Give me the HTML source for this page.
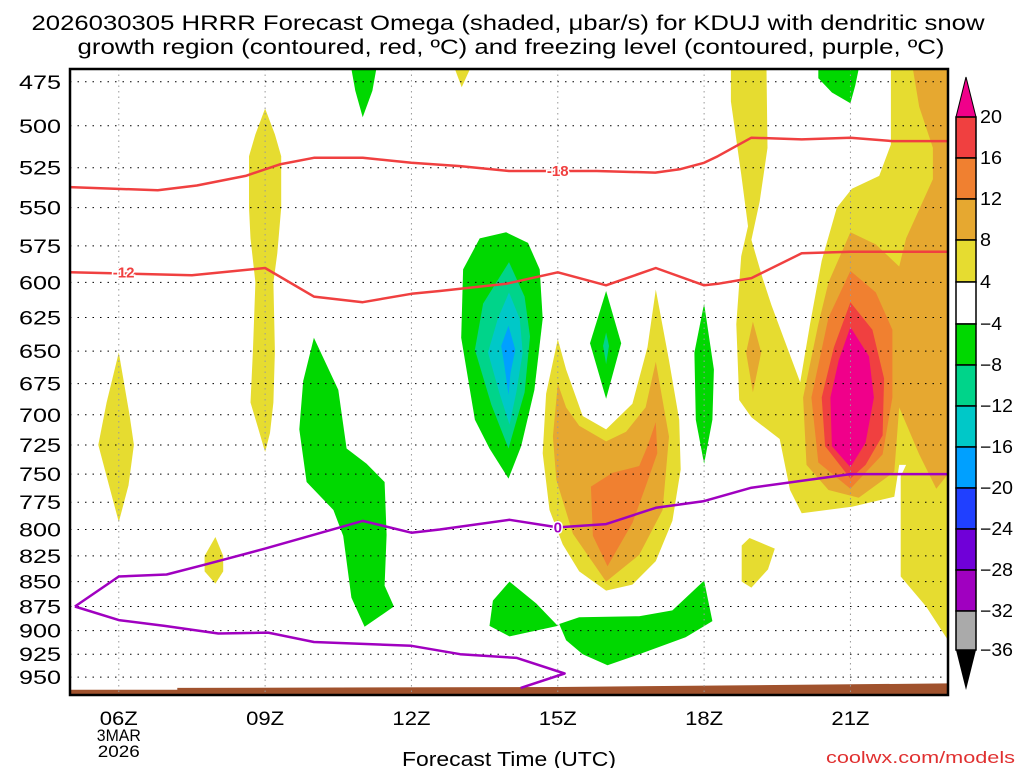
<!DOCTYPE html>
<html><head><meta charset="utf-8"><style>
html,body{margin:0;padding:0;background:#fff;}
svg{display:block;font-family:"Liberation Sans",sans-serif;}
</style></head><body>
<svg id="chart" width="1024" height="768" viewBox="0 0 1024 768">
<text x="508" y="30" text-anchor="middle" font-size="21" textLength="953" lengthAdjust="spacingAndGlyphs">2026030305 HRRR Forecast Omega (shaded, μbar/s) for KDUJ with dendritic snow</text>
<text x="511" y="54" text-anchor="middle" font-size="21" textLength="867" lengthAdjust="spacingAndGlyphs">growth region (contoured, red, ºC) and freezing level (contoured, purple, ºC)</text>
<g id="fills"></g>
<g id="grid"></g>
<g id="lines"></g>
<g id="axes"></g>
<g id="cbar"></g>
<text x="509" y="766" text-anchor="middle" font-size="20" textLength="214" lengthAdjust="spacingAndGlyphs">Forecast Time (UTC)</text>
<text x="1015" y="763" text-anchor="end" font-size="17" fill="#e03030" textLength="189" lengthAdjust="spacingAndGlyphs">coolwx.com/models</text>
</svg>
<script>
// axis domain
const hourMin = 5, hourMax = 23, pTop = 468, pBot = 970;
const xTicks = [6, 9, 12, 15, 18, 21];
const xTickLabels = ["06Z", "09Z", "12Z", "15Z", "18Z", "21Z"];
const yTicks = [475,500,525,550,575,600,625,650,675,700,725,750,775,800,825,850,875,900,925,950];
const cbarLevels = [20,16,12,8,4,-4,-8,-12,-16,-20,-24,-28,-32,-36];
const cbarColors = ["#f04040","#f08030","#e6a830","#e6dc30","#ffffff","#00d800","#00d48a","#00c8c8","#00a0ff","#2040ff","#7000d8","#a000c0","#aaaaaa"];
// omega shaded regions: [[hour, hPa], ...]
const yellowRegions = [
 [[6,651],[6.22,700],[6.31,725],[6.2,760],[6,793],[5.8,760],[5.58,725],[5.75,690]],
 [[9,490],[9.2,505],[9.33,518],[9.33,550],[9.25,580],[9.17,600],[9.2,650],[9.17,690],[9.1,715],[9,731],[8.85,710],[8.7,690],[8.75,650],[8.8,600],[8.7,570],[8.67,550],[8.67,518],[8.8,505]],
 [[7.98,807],[8.14,825],[8.14,840],[7.98,852],[7.76,840],[7.76,825]],
 [[12.89,468],[13.2,468],[13.03,478]],
 [[15,641],[14.76,683],[14.69,732],[14.83,782],[15.1,814],[15.44,840],[15.99,859],[16.53,853],[17.01,830],[17.35,792],[17.52,746],[17.49,704],[17.28,657],[17.01,605],[16.84,647],[16.53,691],[15.99,712],[15.51,701],[15.17,664]],
 [[18.55,468],[19.28,468],[19.3,513],[19.14,546],[18.97,571],[19.2,597],[19.38,616],[19.66,643],[19.97,674],[20.17,630],[20.41,585],[20.72,550],[21.03,538],[21.59,530],[21.83,511],[21.83,468],[23,468],[23,910],[22.55,875],[22.03,845],[22.03,752],[22.14,742],[22.0,742],[21.9,770],[21.03,779],[20,785],[19.76,764],[19.55,720],[18.97,702],[18.72,688],[18.66,630],[18.76,582],[18.9,562],[18.76,529],[18.55,486]],
 [[18.93,808],[19.45,818],[19.31,838],[18.97,856],[18.77,850],[18.77,815]]
];
const orangeRegions = [
 [[15,675],[14.9,718],[14.97,755],[15.31,804],[15.99,850],[16.67,824],[17.15,782],[17.28,718],[17.01,658],[16.8,694],[16.4,714],[15.99,722],[15.44,709],[15.17,694]],
 [[19,628],[19.17,651],[19,682],[18.86,651]],
 [[22.28,468],[23,468],[23,750],[22.76,763],[22.41,733],[22.0,694],[21.9,748],[21.17,771],[20.55,764],[20.1,742],[20.03,686],[20.34,630],[20.55,600],[21,566],[21.52,574],[22,589],[22.14,570],[22.69,532],[22.69,513],[22.41,489]]
];
const darkOrangeRegions = [
 [[17.01,706],[17.04,732],[16.8,761],[16.53,794],[16.02,835],[15.72,806],[15.68,761],[16.12,749],[16.67,743],[16.84,726]],
 [[21,592],[21.52,607],[21.86,634],[21.86,686],[21.66,733],[21,763],[20.34,740],[20.2,686],[20.55,625]]
];
const redRegions = [
 [[21,614],[21.45,634],[21.69,671],[21.66,717],[21.31,742],[21,754],[20.48,726],[20.41,686],[20.66,647]]
];
const magentaRegions = [
 [[21,632],[21.38,654],[21.48,686],[21.31,723],[21,744],[20.62,726],[20.59,686],[20.76,657]]
];
const greenRegions = [
 [[10.77,468],[11.28,468],[11.2,480],[11.0,495],[10.85,480]],
 [[10.0,640],[10.5,680],[10.67,728],[11.08,741],[11.45,757],[11.49,805],[11.45,854],[11.64,875],[11.04,896],[10.77,866],[10.6,806],[10.4,782],[9.85,757],[9.7,712],[9.78,673]],
 [[13.94,566],[14.39,573],[14.63,591],[14.69,626],[14.52,680],[14.25,726],[13.99,754],[13.6,728],[13.3,704],[13.02,640],[13.06,591],[13.4,570]],
 [[15.99,606],[16.3,644],[15.99,687],[15.66,644]],
 [[18,615],[18.2,664],[18.17,704],[18,741],[17.83,704],[17.8,651]],
 [[14.01,850],[14.56,872],[15,895],[14.28,903],[14.01,906],[13.6,895],[13.67,869]],
 [[15.03,893],[15.44,886],[16.67,885],[17.35,879],[18,849],[18.17,890],[17.62,907],[16.67,925],[16.02,937],[15.51,925],[15.17,910]],
 [[20.34,468],[21.17,468],[21.1,477],[21,487],[20.62,481],[20.34,473]]
];
const tealRegions = [
 [[14.0,586],[14.32,610],[14.43,639],[14.32,682],[13.99,728],[13.64,692],[13.3,649],[13.47,615]],
 [[15.99,636],[16.05,646],[15.99,660],[15.93,646]]
];
const cyanRegions = [
 [[14,607],[14.22,626],[14.28,651],[14.15,682],[14.01,708],[13.8,682],[13.57,651],[13.77,626]]
];
const blueRegions = [
 [[13.99,631],[14.13,649],[14.03,667],[13.99,684],[13.91,662],[13.84,646]]
];
const groundTop = [[5,964],[7.2,964],[7.2,962],[15,961],[23,957]];
// contour lines
const dgzUpper = [[5,537],[6.8,539],[7.6,536],[8.6,530],[9.3,523],[10,519],[11,519],[12,522],[13,524],[14,527],[15.8,527],[17,528],[17.5,526],[18,522],[18.28,518],[18.97,507],[20,508],[21,507],[21.86,509],[23,509]];
const dgzLower = [[5,593],[7.5,595],[9,590],[10,610],[11,614],[12,608],[12.58,606],[13.94,601],[15,593],[15.99,602],[17.01,590],[18,602],[18.28,601],[18.97,597],[20,580],[21,579],[23,579]];
const frzUpper = [[5.1,875],[6,845],[6.98,843],[7.8,833],[9,818],[11,792],[12,803],[12.58,800],[14.01,791],[15,798],[15.99,795],[17.01,780],[18,774],[18.97,762],[21,750],[23,750]];
const frzLower = [[5.1,875],[6,889],[6.94,895],[8.04,903],[9.06,902],[10,912],[12,916],[13,925],[14.16,929],[15.14,946],[14.24,962]];
const lineLabels = [["-12",6.1,593,"#f04040"],["-18",15.0,527,"#f04040"],["0",15.0,798,"#a000c0"]];

const X0=70, X1=948, Y0=69, Y1=695;
const xs = h => X0 + (h-hourMin)/(hourMax-hourMin)*(X1-X0);
const ys = p => Y0 + Math.log(p/pTop)/Math.log(pBot/pTop)*(Y1-Y0);
const NS="http://www.w3.org/2000/svg";
function mk(tag, parent){const e=document.createElementNS(NS,tag);parent.appendChild(e);return e;}
const pts = arr => arr.map(d=>xs(d[0]).toFixed(1)+","+ys(d[1]).toFixed(1)).join(" ");

const fills=document.getElementById("fills");
const layers=[["#e6dc30",yellowRegions,"omega-4-8"],["#e6a830",orangeRegions,"omega-8-12"],["#f08030",darkOrangeRegions,"omega-12-16"],["#f04040",redRegions,"omega-16-20"],["#f0008a",magentaRegions,"omega-above-20"],["#00d800",greenRegions,"omega-minus4-8"],["#00d48a",tealRegions,"omega-minus8-12"],["#00c8c8",cyanRegions,"omega-minus12-16"],["#00a0ff",blueRegions,"omega-minus16-20"]];
layers.forEach(L=>{L[1].forEach(poly=>{const e=mk("polygon",fills);e.setAttribute("points",pts(poly));e.setAttribute("fill",L[0]);

});});
const g=mk("polygon",fills);
g.setAttribute("points",pts(groundTop)+" "+xs(23)+","+Y1+" "+xs(5)+","+Y1);g.setAttribute("fill","#a0522d");



const grid=document.getElementById("grid");
xTicks.forEach(h=>{const l=mk("line",grid);l.setAttribute("x1",xs(h));l.setAttribute("x2",xs(h));l.setAttribute("y1",Y0);l.setAttribute("y2",Y1);l.setAttribute("stroke","#999");l.setAttribute("stroke-dasharray","1.5 4");

});
yTicks.forEach(p=>{const l=mk("line",grid);l.setAttribute("x1",X0);l.setAttribute("x2",X1);l.setAttribute("y1",ys(p));l.setAttribute("y2",ys(p));l.setAttribute("stroke","#000");l.setAttribute("stroke-dasharray","1.5 6");

});

const lines=document.getElementById("lines");
[[dgzUpper,"#f04040","dgz-minus18-contour"],[dgzLower,"#f04040","dgz-minus12-contour"],[frzUpper,"#a000c0","freezing-level-contour"],[frzLower,"#a000c0","freezing-level-lower-contour"]].forEach(c=>{
const e=mk("polyline",lines);e.setAttribute("points",pts(c[0]));e.setAttribute("fill","none");e.setAttribute("stroke",c[1]);e.setAttribute("stroke-width","2.5");e.setAttribute("stroke-linejoin","round");

});
lineLabels.forEach(L=>{const t=mk("text",lines);t.setAttribute("x",xs(L[1]));t.setAttribute("y",ys(L[2])+5);t.setAttribute("text-anchor","middle");t.setAttribute("font-size","15");t.setAttribute("font-weight","bold");t.setAttribute("fill",L[3]);t.setAttribute("stroke","#fff");t.setAttribute("stroke-width","3");t.setAttribute("paint-order","stroke");t.textContent=L[0];

});

const axes=document.getElementById("axes");
const fr=mk("rect",axes);fr.setAttribute("x",X0);fr.setAttribute("y",Y0);fr.setAttribute("width",X1-X0);fr.setAttribute("height",Y1-Y0);fr.setAttribute("fill","none");fr.setAttribute("stroke","#000");fr.setAttribute("stroke-width","2.5");


yTicks.forEach(p=>{const t=mk("text",axes);t.setAttribute("x",61);t.setAttribute("y",ys(p)+7);t.setAttribute("text-anchor","end");t.setAttribute("font-size","19");t.setAttribute("textLength","42");t.setAttribute("lengthAdjust","spacingAndGlyphs");t.textContent=p;

});
xTicks.forEach((h,i)=>{const t=mk("text",axes);t.setAttribute("x",xs(h));t.setAttribute("y",725);t.setAttribute("text-anchor","middle");t.setAttribute("font-size","19");t.setAttribute("textLength","38");t.setAttribute("lengthAdjust","spacingAndGlyphs");t.textContent=xTickLabels[i];

});
["3MAR","2026"].forEach((s,i)=>{const t=mk("text",axes);t.setAttribute("x",xs(6));t.setAttribute("y",741+i*16);t.setAttribute("text-anchor","middle");t.setAttribute("font-size","17");t.setAttribute("textLength",i?"42":"44");t.setAttribute("lengthAdjust","spacingAndGlyphs");t.textContent=s;

});

const cb=document.getElementById("cbar");
const cy=[117,158,199,240,282,324,365,406,447,488,529,570,611,650];
const cx0=956,cx1=976;
const tt=mk("polygon",cb);tt.setAttribute("points",`${cx0},${cy[0]} ${cx1},${cy[0]} 966,77`);tt.setAttribute("fill","#f0008a");tt.setAttribute("stroke","#000");


const tb=mk("polygon",cb);tb.setAttribute("points",`${cx0},${cy[13]} ${cx1},${cy[13]} 966,690`);tb.setAttribute("fill","#000");


cbarColors.forEach((c,i)=>{const r=mk("rect",cb);r.setAttribute("x",cx0);r.setAttribute("y",cy[i]);r.setAttribute("width",cx1-cx0);r.setAttribute("height",cy[i+1]-cy[i]);r.setAttribute("fill",c);r.setAttribute("stroke","#000");r.setAttribute("stroke-width","1.5");

});
cbarLevels.forEach((v,i)=>{const t=mk("text",cb);t.setAttribute("x",980);t.setAttribute("y",cy[i]+6);t.setAttribute("font-size","18");
const s=v<0?"\u2212"+(-v):String(v);
t.setAttribute("textLength",String(s.length*11));t.setAttribute("lengthAdjust","spacingAndGlyphs");t.textContent=s;

});
</script>
</body></html>
